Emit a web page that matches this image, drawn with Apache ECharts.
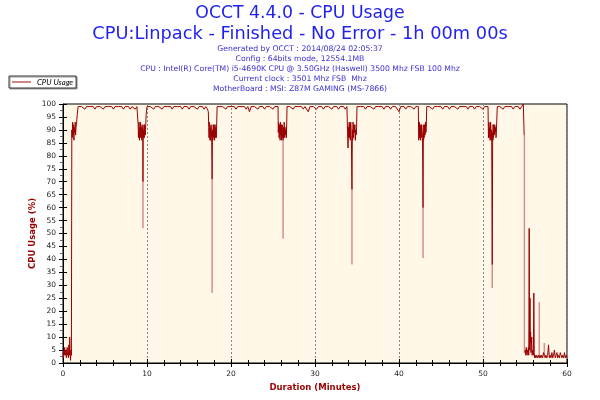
<!DOCTYPE html>
<html>
<head>
<meta charset="utf-8">
<title>OCCT CPU Usage</title>
<script src="https://cdn.jsdelivr.net/npm/echarts@6/dist/echarts.min.js"></script>
<style>
html, body { margin: 0; padding: 0; background: #fff; }
#chart { width: 600px; height: 400px; }
</style>
</head>
<body>
<div id="chart"></div>
<script>
// header lines
var titleLines = ['OCCT 4.4.0 - CPU Usage', 'CPU:Linpack - Finished - No Error - 1h 00m 00s'];
var infoLines = [
    'Generated by OCCT : 2014/08/24 02:05:37',
    'Config : 64bits mode, 12554.1MB',
    'CPU : Intel(R) Core(TM) i5-4690K CPU @ 3.50GHz (Haswell) 3500 Mhz FSB 100 Mhz',
    'Current clock : 3501 Mhz FSB  Mhz',
    'MotherBoard : MSI: Z87M GAMING (MS-7866)'
];

// [minute, cpu %]
var idleStart = [[0,4],[0.05,2],[0.1,5],[0.15,3],[0.2,6],[0.25,4],[0.3,3],[0.35,5],[0.4,2],[0.45,4],[0.5,6],[0.55,3],[0.6,4],[0.65,2],[0.7,7],[0.75,3],[0.8,10],[0.85,4],[0.9,1],[0.95,5],[1.0,3],
    [1.05,90],[1.1,87],[1.15,93],[1.2,88],[1.25,92],[1.3,86],[1.35,91],[1.4,89],[1.45,93],[1.5,88],[1.55,91],[1.6,92],[1.7,96],[1.8,99]];
var run1 = [[2.0,99],[2.2,99],[2.4,99],[2.6,98],[2.8,99],[3.0,99],[3.2,99],[3.4,99],[3.6,99],[3.8,98],[4.0,99],[4.2,99],[4.4,99],[4.6,99],[4.8,98],[5.0,99],[5.2,99],[5.4,99],[5.6,99],[5.8,99],[6.0,98],[6.2,99],[6.4,99],[6.6,99],[6.8,99],[7.0,99],[7.2,98],[7.4,99],[7.6,99],[7.8,99],[8.0,98],[8.2,99],[8.4,99],[8.6,98],[8.8,99],
    [8.93,99],[8.95,92],[8.98,87],[9.0,88],[9.03,91],[9.05,93],[9.08,88],[9.1,86],[9.13,90],[9.15,91],[9.18,87],[9.2,89],[9.23,93],[9.25,92],[9.28,88],[9.3,87],[9.33,91],[9.35,90],[9.38,86],[9.4,88],[9.43,92],[9.45,91],[9.48,88],[9.5,87],[9.52,70],[9.55,90],[9.58,87],[9.6,88],[9.63,91],[9.65,92],[9.68,87],[9.7,89],[9.73,92],[9.76,91],[9.8,88],[9.85,92],[9.9,96],[10.0,99]];
var run2 = [[10.2,99],[10.4,99],[10.6,99],[10.8,98],[11.0,99],[11.2,99],[11.4,99],[11.6,99],[11.8,98],[12.0,99],[12.2,99],[12.4,99],[12.6,99],[12.8,99],[13.0,98],[13.2,99],[13.4,99],[13.6,99],[13.8,99],[14.0,99],[14.2,98],[14.4,99],[14.6,99],[14.8,99],[15.0,98],[15.2,99],[15.4,99],[15.6,99],[15.8,99],[16.0,98],[16.2,99],[16.4,99],[16.6,99],[16.8,98],[17.0,99],[17.2,98],
    [17.3,97],[17.35,91],[17.38,87],[17.4,88],[17.43,93],[17.45,92],[17.48,88],[17.5,86],[17.53,91],[17.55,90],[17.58,86],[17.6,88],[17.63,92],[17.65,91],[17.68,88],[17.7,87],[17.75,71],[17.8,90],[17.83,86],[17.85,87],[17.88,92],[17.9,91],[17.93,87],[17.95,88],[17.98,92],[18.0,90],[18.03,87],[18.05,86],[18.08,91],[18.1,92],[18.13,87],[18.15,88],[18.2,91],[18.25,87],[18.3,93],[18.35,99]];
var run3 = [[18.6,99],[18.8,99],[19.0,99],[19.2,99],[19.4,98],[19.6,99],[19.8,99],[20.0,99],[20.2,99],[20.4,99],[20.6,98],[20.8,99],[21.0,99],[21.2,99],[21.4,99],[21.6,99],[21.8,98],[22.0,99],[22.2,97],[22.4,99],[22.6,99],[22.8,99],[23.0,99],[23.2,98],[23.4,99],[23.6,99],[23.8,99],[24.0,98],[24.2,99],[24.4,99],[24.6,99],[24.8,99],[25.0,98],[25.2,99],[25.4,99],
    [25.6,99],[25.63,89],[25.67,93],[25.7,92],[25.73,87],[25.75,88],[25.78,92],[25.8,91],[25.83,87],[25.85,86],[25.88,92],[25.9,93],[25.93,88],[25.95,89],[25.98,92],[26.0,91],[26.03,86],[26.05,87],[26.08,91],[26.1,92],[26.13,87],[26.15,88],[26.2,86],[26.25,91],[26.28,87],[26.3,89],[26.33,93],[26.35,92],[26.38,88],[26.4,87],[26.45,90],[26.5,88],[26.55,91],[26.6,87],[26.67,99]];
var run4 = [[26.8,99],[27.0,99],[27.2,99],[27.4,98],[27.6,99],[27.8,99],[28.0,99],[28.2,99],[28.4,99],[28.6,98],[28.8,99],[29.0,99],[29.2,97],[29.4,99],[29.6,99],[29.8,99],[30.0,99],[30.2,98],[30.4,99],[30.6,99],[30.8,99],[31.0,98],[31.2,99],[31.4,99],[31.6,99],[31.8,99],[32.0,98],[32.2,99],[32.4,99],[32.6,99],[32.8,98],[33.0,99],[33.2,99],[33.4,99],[33.6,98],[33.8,99],
    [33.9,99],[33.93,83],[33.98,91],[34.0,87],[34.03,88],[34.05,92],[34.08,93],[34.1,88],[34.13,87],[34.15,92],[34.18,91],[34.2,86],[34.23,89],[34.25,93],[34.28,92],[34.3,88],[34.33,86],[34.4,67],[34.45,90],[34.48,86],[34.5,88],[34.53,93],[34.55,92],[34.58,88],[34.6,87],[34.63,92],[34.65,91],[34.7,89],[34.75,92],[34.8,86],[34.85,90],[34.9,88],[34.95,91],[35.0,99]];
var run5 = [[35.2,99],[35.4,99],[35.6,99],[35.8,99],[36.0,98],[36.2,99],[36.4,99],[36.6,99],[36.8,99],[37.0,98],[37.2,99],[37.4,99],[37.6,99],[37.8,99],[38.0,99],[38.2,98],[38.4,99],[38.6,99],[38.8,99],[39.0,98],[39.2,99],[39.4,99],[39.6,99],[39.8,99],[40.0,97],[40.2,99],[40.4,99],[40.6,99],[40.8,98],[41.0,99],[41.2,99],[41.4,99],[41.6,99],[41.8,98],[42.0,99],[42.2,99],
    [42.3,99],[42.33,90],[42.35,86],[42.38,87],[42.4,92],[42.43,93],[42.45,87],[42.48,88],[42.5,92],[42.53,91],[42.55,87],[42.58,86],[42.6,91],[42.63,92],[42.65,87],[42.68,89],[42.7,92],[42.73,91],[42.8,87],[42.86,60],[42.9,89],[42.93,86],[42.95,92],[42.98,88],[43.0,87],[43.03,92],[43.05,91],[43.1,88],[43.15,93],[43.2,89],[43.25,91],[43.3,99]];
var run6 = [[43.4,99],[43.6,99],[43.8,99],[44.0,98],[44.2,99],[44.4,99],[44.6,99],[44.8,99],[45.0,99],[45.2,98],[45.4,99],[45.6,99],[45.8,99],[46.0,98],[46.2,99],[46.4,99],[46.6,99],[46.8,99],[47.0,98],[47.2,99],[47.4,99],[47.6,99],[47.8,99],[48.0,99],[48.2,98],[48.4,99],[48.6,99],[48.8,99],[49.0,98],[49.2,99],[49.4,99],[49.6,99],[49.8,99],[50.0,98],[50.2,99],[50.4,99],
    [50.6,99],[50.63,91],[50.65,87],[50.68,88],[50.7,93],[50.73,92],[50.75,87],[50.78,87],[50.8,91],[50.83,90],[50.85,86],[50.88,89],[50.9,93],[50.93,92],[50.95,88],[50.98,86],[51.03,90],[51.1,38],[51.15,89],[51.18,86],[51.2,92],[51.23,88],[51.25,87],[51.28,92],[51.3,91],[51.35,88],[51.4,92],[51.45,89],[51.5,91],[51.55,87],[51.6,90],[51.7,99]];
var run7 = [[51.8,99],[52.0,99],[52.2,99],[52.4,98],[52.6,99],[52.8,99],[53.0,99],[53.2,99],[53.4,99],[53.6,98],[53.8,99],[54.0,99],[54.2,99],[54.4,98],[54.6,99],[54.8,100],[54.85,100],[54.9,88],[54.95,'-']];
var idleEnd = [[55.0,4],[55.05,5],[55.1,3],[55.15,6],[55.2,4],[55.25,3],[55.3,5],[55.35,4],[55.4,6],[55.45,3],[55.5,52],[55.55,5],[55.6,25],[55.63,8],[55.67,12],[55.7,4],[55.75,6],[55.8,10],[55.85,3],[55.9,5],[55.95,4],[56.0,3],[56.05,27],[56.1,4],[56.15,2],[56.2,3],[56.3,2],[56.4,3],[56.5,2],[56.6,3],[56.7,2],[56.8,3],[56.9,2],[57.0,3],[57.1,2],[57.2,4],[57.3,3],[57.4,2],[57.5,3],[57.6,2],[57.7,3],[57.8,7],[57.9,2],[58.0,3],[58.1,2],[58.2,4],[58.3,2],[58.4,3],[58.5,5],[58.6,2],[58.7,3],[58.8,4],[58.9,2],[59.0,3],[59.1,2],[59.2,4],[59.3,3],[59.4,2],[59.5,3],[59.6,2],[59.7,4],[59.8,2],[59.9,3],[60.0,2]];

// light single-sample extremes: [minute, from %, to %]
var spikeLows = [[9.52,70,52],[17.75,71,27],[26.2,86,48],[34.4,67,38],[42.86,60,40.5],[51.1,38,29],[54.93,88,4],[56.7,2,23.5],[57.3,3,7.7]];

var cpuUsage = idleStart.concat(run1, run2, run3, run4, run5, run6, run7, idleEnd);
var spikeData = [];
spikeLows.forEach(function (s) {
    spikeData.push([s[0], s[1]], [s[0], s[2]], [s[0], '-']);
});

var myChart = echarts.init(document.getElementById('chart'));
var font = 'DejaVu Sans';
var axisBase = {
    type: 'value',
    min: 0,
    axisLine: { show: true, lineStyle: { color: '#000', width: 1 } },
    splitLine: { show: false }
};

var option = {
    animation: false,
    textStyle: { fontFamily: font },
    title: [
        {
            left: 'center', top: 3, padding: 0,
            text: titleLines[0],
            textStyle: { fontSize: 17.3, fontWeight: 'normal', color: '#1f1ff0', lineHeight: 21, fontFamily: font }
        },
        {
            left: 'center', top: 24, padding: 0,
            text: titleLines[1],
            textStyle: { fontSize: 17.8, fontWeight: 'normal', color: '#1f1ff0', lineHeight: 21, fontFamily: font }
        },
        {
            left: 'center', top: 44, padding: 0,
            text: infoLines.join('\n'),
            textStyle: { fontSize: 7.7, fontWeight: 'normal', color: '#3a30d0', lineHeight: 10, fontFamily: font }
        }
    ],
    legend: {
        left: 9,
        top: 76,
        orient: 'vertical',
        padding: [2, 3, 2, 3],
        icon: 'path://M0,0L20,0L20,1L0,1Z',
        itemWidth: 19,
        itemHeight: 1.2,
        itemGap: 2,
        backgroundColor: '#fff',
        borderColor: '#333',
        borderWidth: 1,
        shadowColor: '#999',
        shadowOffsetX: 1,
        shadowOffsetY: 1,
        data: ['CPU Usage'],
        textStyle: { fontSize: 7.8, fontStyle: 'italic', color: '#000', fontFamily: 'Lato', padding: [0, 0, 0, 1] }
    },
    grid: {
        left: 63, right: 33, top: 104, bottom: 37,
        show: true,
        backgroundColor: '#fff8e8',
        borderColor: '#000',
        borderWidth: 1
    },
    xAxis: [
        Object.assign({}, axisBase, {
            max: 60,
            interval: 10,
            name: 'Duration (Minutes)',
            nameLocation: 'middle',
            nameGap: 17,
            nameTextStyle: { color: '#9a0000', fontSize: 8.5, fontWeight: 'bold' },
            axisTick: { show: true, inside: false, length: 4, lineStyle: { color: '#000' } },
            minorTick: { show: true, splitNumber: 5, length: 3, lineStyle: { color: '#000' } },
            axisLabel: { fontSize: 7.5, color: '#222', margin: 7 },
            splitLine: { show: true, lineStyle: { color: '#8a8a8a', type: [2, 2], width: 1 } }
        }),
        Object.assign({}, axisBase, {
            max: 60,
            interval: 10,
            position: 'bottom',
            axisLine: { show: false },
            axisTick: { show: true, inside: true, length: 4, lineStyle: { color: '#000' } },
            minorTick: { show: true, splitNumber: 5, length: 3, lineStyle: { color: '#000' } },
            axisLabel: { show: false }
        })
    ],
    yAxis: [
        Object.assign({}, axisBase, {
            max: 100,
            interval: 5,
            name: 'CPU Usage (%)',
            nameLocation: 'middle',
            nameGap: 26,
            nameMoveOverlap: false,
            nameTextStyle: { color: '#9a0000', fontSize: 8.5, fontWeight: 'bold' },
            axisTick: { show: true, inside: false, length: 4, lineStyle: { color: '#000' } },
            minorTick: { show: true, splitNumber: 2, length: 3, lineStyle: { color: '#666' } },
            axisLabel: { fontSize: 7.5, color: '#222', margin: 7 }
        }),
        Object.assign({}, axisBase, {
            max: 100,
            interval: 5,
            position: 'left',
            axisLine: { show: false },
            axisTick: { show: true, inside: true, length: 4, lineStyle: { color: '#000' } },
            axisLabel: { show: false }
        })
    ],
    series: [
        {
            name: 'CPU Usage',
            type: 'line',
            data: cpuUsage,
            showSymbol: false,
            symbol: 'none',
            connectNulls: false,
            color: '#9a0000',
            lineStyle: { color: '#9a0000', width: 1 },
            z: 3
        },
        {
            name: 'low',
            type: 'line',
            data: spikeData,
            showSymbol: false,
            symbol: 'none',
            connectNulls: false,
            lineStyle: { color: '#d88c8c', width: 1.5 },
            z: 2
        }
    ]
};
myChart.setOption(option);
</script>
</body>
</html>
